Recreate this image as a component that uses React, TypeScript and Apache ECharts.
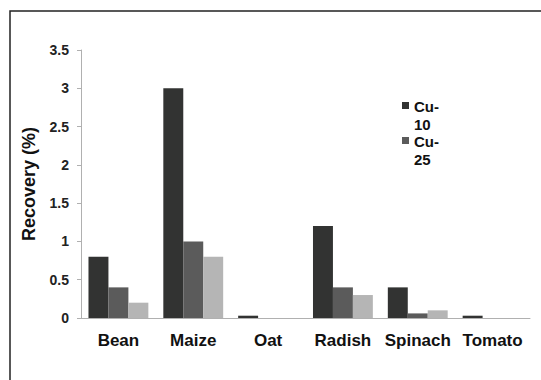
import React, { useEffect, useRef } from "react";
import * as echarts from "echarts";

const categories = ["Bean", "Maize", "Oat", "Radish", "Spinach", "Tomato"];
const cu10 = [0.8, 3.0, 0.03, 1.2, 0.4, 0.03];
const cu25 = [0.4, 1.0, 0, 0.4, 0.06, 0];
const cu50 = [0.2, 0.8, 0, 0.3, 0.1, 0];
const seriesNames = ["Cu-10", "Cu-25", "Cu-50"];
const legendNames = ["Cu-10", "Cu-25"];
const colors = ["#323332", "#5b5b5b", "#b5b5b5"];

export default function App() {
  const ref = useRef<HTMLDivElement>(null);
  useEffect(() => {
    const chart = echarts.init(ref.current!, null, { renderer: "svg" });
    const font = "'Liberation Sans', Arial, sans-serif";
    const legendGraphics: any[] = [];
    legendNames.forEach((n, i) => {
      const y0 = 102 + i * 35;
      const parts = n.split("-");
      legendGraphics.push({
        type: "rect",
        shape: { x: 402, y: y0, width: 7, height: 7 },
        style: { fill: colors[i] },
      });
      legendGraphics.push({
        type: "text",
        x: 414,
        y: y0 - 5,
        style: {
          text: parts[0] + "-\n" + parts[1],
          fill: "#111",
          font: "bold 15px " + font,
          lineHeight: 18,
        },
      });
    });
    chart.setOption({
      animation: false,
      backgroundColor: "#ffffff",
      grid: { left: 81, right: 11, top: 50, bottom: 62 },
      xAxis: {
        type: "category",
        data: categories,
        axisLine: { lineStyle: { color: "#b0b0b0", width: 1 } },
        axisTick: { show: false },
        axisLabel: {
          interval: 0,
          margin: 14,
          color: "#111",
          fontFamily: font,
          fontWeight: "bold",
          fontSize: 17,
        },
      },
      yAxis: {
        type: "value",
        min: 0,
        max: 3.5,
        interval: 0.5,
        name: "Recovery (%)",
        nameLocation: "middle",
        nameGap: 43,
        nameTextStyle: {
          color: "#111",
          fontFamily: font,
          fontWeight: "bold",
          fontSize: 18,
        },
        axisLine: { show: true, lineStyle: { color: "#b0b0b0", width: 1 } },
        axisTick: { show: true, length: 4, lineStyle: { color: "#b0b0b0" } },
        splitLine: { show: false },
        axisLabel: {
          margin: 12,
          color: "#222",
          fontFamily: font,
          fontWeight: "bold",
          fontSize: 14,
        },
      },
      series: [cu10, cu25, cu50].map((d, i) => ({
        type: "bar",
        name: seriesNames[i],
        data: d,
        barGap: "0%",
        barCategoryGap: "20%",
        itemStyle: { color: colors[i] },
      })),
      graphic: [
        {
          type: "rect",
          shape: { x: 10, y: 11, width: 700, height: 600 },
          style: { fill: "none", stroke: "#222", lineWidth: 1.5 },
          silent: true,
        },
        ...legendGraphics,
      ],
    });
    return () => chart.dispose();
  }, []);
  return (
    <div
      ref={ref}
      style={{ position: "fixed", left: 0, top: 0, width: 541, height: 380 }}
    />
  );
}
